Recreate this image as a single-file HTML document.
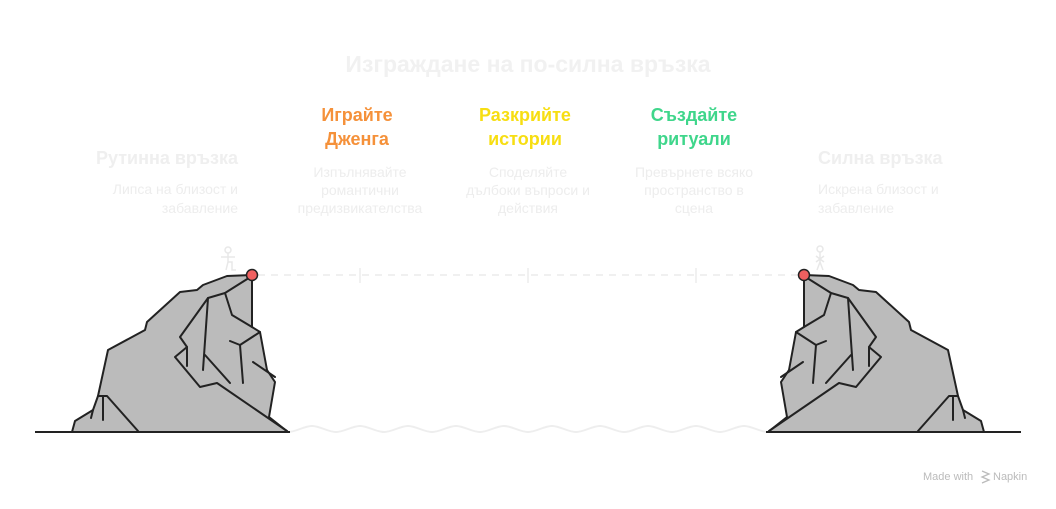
<!DOCTYPE html>
<html><head><meta charset="utf-8"><style>
html,body{margin:0;padding:0;background:#fff;}
body{width:1056px;height:504px;overflow:hidden;}
text{font-family:"Liberation Sans",sans-serif;}
</style></head><body>
<svg width="1056" height="504" viewBox="0 0 1056 504" xmlns="http://www.w3.org/2000/svg">
<defs>
<g id="cliff">
  <path d="M72,432 L75,421 L93,410 L98,396 L108,350 L145,330 L147,322 L180,292 L197,290 L203,285 L227,276 L252,275 L252,327 L260,332 L267,370 L275,382 L269,417 L288,432 Z" fill="#bbbbbb" stroke="#222" stroke-width="2" stroke-linejoin="round"/>
  <g fill="none" stroke="#222" stroke-width="2" stroke-linejoin="round" stroke-linecap="round">
    <path d="M252,276 L225,293 L208,298 L180,337 L187,347 L175,357 L200,387 L217,383 L287,431"/>
    <path d="M208,298 L203,370"/>
    <path d="M225,293 L232,315 L252,327"/>
    <path d="M187,347 L187,366"/>
    <path d="M205,355 L230,383"/>
    <path d="M230,341 L240,345 L260,332"/>
    <path d="M240,345 L243,383"/>
    <path d="M253,362 L275,377"/>
    <path d="M98,396 L107,396 L138,431"/>
    <path d="M103,396 L103,420"/>
    <path d="M93,410 L91,418"/>
  </g>
</g>
</defs>
<text x="528" y="72" text-anchor="middle" font-size="23" font-weight="bold" fill="#f1f1f1">Изграждане на по-силна връзка</text>

<text x="238" y="164" text-anchor="end" font-size="18" font-weight="bold" fill="#efefef">Рутинна връзка</text>
<text x="238" y="194" text-anchor="end" font-size="14" fill="#ededed">Липса на близост и</text>
<text x="238" y="213" text-anchor="end" font-size="14" fill="#ededed">забавление</text>

<text x="357" y="121" text-anchor="middle" font-size="18" font-weight="bold" fill="#f5913a">Играйте</text>
<text x="357" y="145" text-anchor="middle" font-size="18" font-weight="bold" fill="#f5913a">Дженга</text>
<text x="360" y="177" text-anchor="middle" font-size="14" fill="#ededed">Изпълнявайте</text>
<text x="360" y="195" text-anchor="middle" font-size="14" fill="#ededed">романтични</text>
<text x="360" y="213" text-anchor="middle" font-size="14" fill="#ededed">предизвикателства</text>

<text x="525" y="121" text-anchor="middle" font-size="18" font-weight="bold" fill="#f7de12">Разкрийте</text>
<text x="525" y="145" text-anchor="middle" font-size="18" font-weight="bold" fill="#f7de12">истории</text>
<text x="528" y="177" text-anchor="middle" font-size="14" fill="#ededed">Споделяйте</text>
<text x="528" y="195" text-anchor="middle" font-size="14" fill="#ededed">дълбоки въпроси и</text>
<text x="528" y="213" text-anchor="middle" font-size="14" fill="#ededed">действия</text>

<text x="694" y="121" text-anchor="middle" font-size="18" font-weight="bold" fill="#3fd68b">Създайте</text>
<text x="694" y="145" text-anchor="middle" font-size="18" font-weight="bold" fill="#3fd68b">ритуали</text>
<text x="694" y="177" text-anchor="middle" font-size="14" fill="#ededed">Превърнете всяко</text>
<text x="694" y="195" text-anchor="middle" font-size="14" fill="#ededed">пространство в</text>
<text x="694" y="213" text-anchor="middle" font-size="14" fill="#ededed">сцена</text>

<text x="818" y="164" font-size="18" font-weight="bold" fill="#efefef">Силна връзка</text>
<text x="818" y="194" font-size="14" fill="#ededed">Искрена близост и</text>
<text x="818" y="213" font-size="14" fill="#ededed">забавление</text>

<line x1="258" y1="275" x2="798" y2="275" stroke="#ececec" stroke-width="1.5" stroke-dasharray="7,6"/>
<g stroke="#ececec" stroke-width="1.5">
<line x1="360" y1="268" x2="360" y2="283"/>
<line x1="528" y1="268" x2="528" y2="283"/>
<line x1="696" y1="268" x2="696" y2="283"/>
</g>

<path d="M288,432 c8,0 16,-6 24,-6 s16,6 24,6 c8,0 16,-6 24,-6 s16,6 24,6 c8,0 16,-6 24,-6 s16,6 24,6 c8,0 16,-6 24,-6 s16,6 24,6 c8,0 16,-6 24,-6 s16,6 24,6 c8,0 16,-6 24,-6 s16,6 24,6 c8,0 16,-6 24,-6 s16,6 24,6 c8,0 16,-6 24,-6 s16,6 24,6 c8,0 16,-6 24,-6 s16,6 24,6 c8,0 16,-6 24,-6 s16,6 24,6" fill="none" stroke="#eeeeee" stroke-width="2"/>

<line x1="35" y1="432" x2="290" y2="432" stroke="#222" stroke-width="2"/>
<line x1="766" y1="432" x2="1021" y2="432" stroke="#222" stroke-width="2"/>

<use href="#cliff"/>
<use href="#cliff" transform="translate(1056,0) scale(-1,1)"/>

<g fill="none" stroke="#e8e8e8" stroke-width="1.5">
  <circle cx="228" cy="250" r="3"/>
  <path d="M228,253 L228,262 M221,257 L235,257 M228,262 L232,262 L232,270 L236,270 M228,262 L226,270"/>
  <circle cx="820" cy="249" r="3"/>
  <path d="M820,252 L820,262 M816,256 L824,262 M824,256 L816,262 M820,262 L817,270 M820,262 L823,270"/>
</g>

<circle cx="252" cy="275" r="5.5" fill="#f06060" stroke="#222" stroke-width="1.5"/>
<circle cx="804" cy="275" r="5.5" fill="#f06060" stroke="#222" stroke-width="1.5"/>

<text x="923" y="480" font-size="11" fill="#bbbbbb">Made with</text>
<path d="M982,471 l7,3 l-7,3 l7,3 l-7,3" fill="none" stroke="#bbb" stroke-width="1.3"/>
<text x="993" y="480" font-size="11" fill="#bbbbbb">Napkin</text>
</svg>
</body></html>
